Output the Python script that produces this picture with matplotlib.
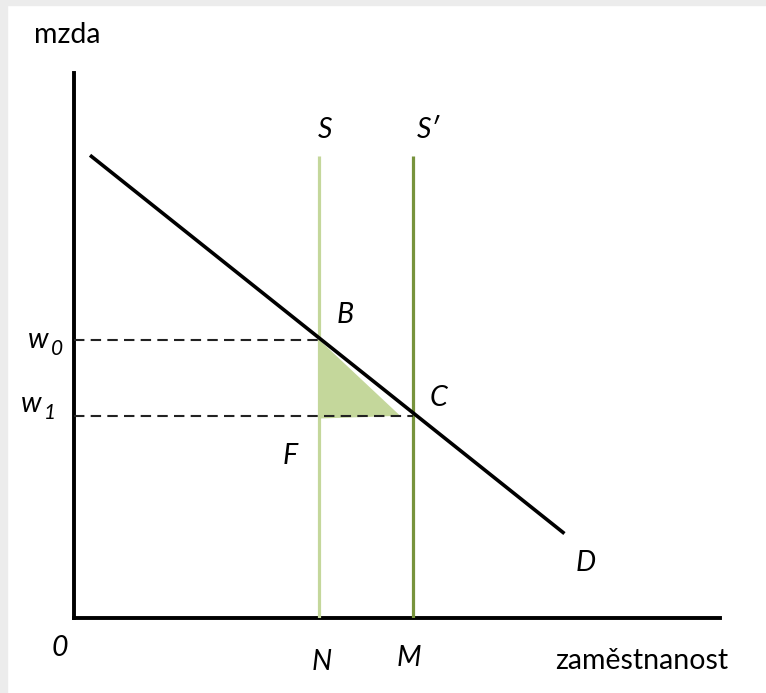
import matplotlib
matplotlib.use("Agg")
import matplotlib.pyplot as plt
from matplotlib.patches import Rectangle, Polygon

plt.rcParams['font.family'] = ['Lato', 'DejaVu Sans']

# Data (economic units: employment on x, wage on y)
axis_x_max = 10.0
axis_y_max = 10.0
demand_x = [0.27, 7.57]
demand_y = [8.47, 1.57]
N = 3.8           # employment with supply S
M = 5.24          # employment with supply S'
supply_top = 8.47
w0 = 5.10
w1 = 3.71
triangle_x = [N, N, 5.05]
triangle_y = [w0, w1 - 0.05, w1]

W, H = 766, 693
fig = plt.figure(figsize=(W / 100, H / 100), dpi=100)
fig.patch.set_facecolor('white')
fig.add_artist(Rectangle((0, 1 - 5 / H), 1, 5 / H, transform=fig.transFigure,
                         color='#ececec', zorder=0))
fig.add_artist(Rectangle((0, 0), 7 / W, 1, transform=fig.transFigure,
                         color='#ececec', zorder=0))

ax = fig.add_axes([74 / W, (H - 618) / H, (720 - 74) / W, (618 - 73) / H])
ax.set_xlim(0, axis_x_max)
ax.set_ylim(0, axis_y_max)
ax.set_facecolor('none')
for s in ['top', 'right']:
    ax.spines[s].set_visible(False)
for s in ['left', 'bottom']:
    ax.spines[s].set_linewidth(2.8)
    ax.spines[s].set_color('black')
ax.set_xticks([])
ax.set_yticks([])

light_green = '#c4d79b'
dark_green = '#77933c'

ax.add_patch(Polygon(list(zip(triangle_x, triangle_y)), closed=True,
                     facecolor=light_green, edgecolor='none', zorder=2))
ax.plot([N, N], [0, supply_top], color=light_green, lw=2.3, zorder=3,
        solid_capstyle='butt')
ax.plot([M, M], [0, supply_top], color=dark_green, lw=2.3, zorder=3,
        solid_capstyle='butt')
ax.plot([0, N], [w0, w0], color='#222222', lw=1.5, ls=(0, (5, 3)), zorder=3)
ax.plot([0, M], [w1, w1], color='#222222', lw=1.5, ls=(0, (5, 3)), zorder=3)
ax.plot(demand_x, demand_y, color='black', lw=2.6, zorder=4)

fs = 20.5
def px(x, y):
    return ax.transData.inverted().transform(
        fig.transFigure.transform((x / W, 1 - y / H)))

def label(txt, x, y, ha='center', italic=True, size=fs):
    xd, yd = px(x, y)
    ax.text(xd, yd, txt, ha=ha, va='center', fontsize=size,
            style='italic' if italic else 'normal', color='black',
            clip_on=False)

label('mzda', 34, 35, ha='left', italic=False)
label('S', 325, 130)
label("S\u2032", 428, 130)
label('B', 345, 315)
label('C', 438, 398)
label('F', 290, 456)
label('D', 586, 563)
label('0', 60, 648)
label('N', 322, 662)
label('M', 409, 658)
label('zaměstnanost', 555, 661, ha='left', italic=False)
# w0 / w1 with italic subscripts
label('w', 38, 340, ha='center')
label('0', 51, 349, ha='left', size=15)
label('w', 31, 404, ha='center')
label('1', 44, 413, ha='left', size=15)

fig.savefig('out.png', dpi=100)
